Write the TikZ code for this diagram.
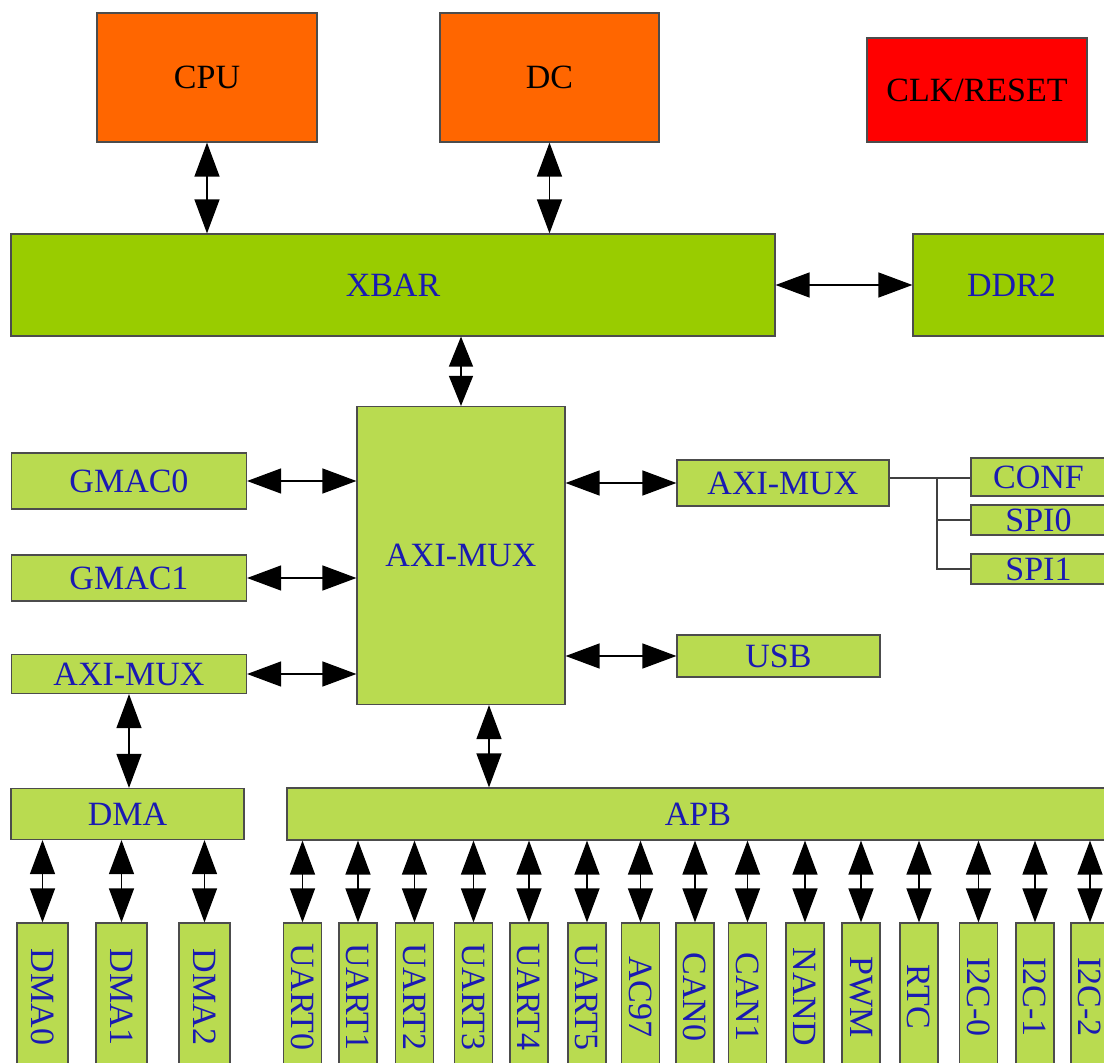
\documentclass[tikz,border=0pt]{standalone}
\usepackage{fontspec}
\setmainfont{Liberation Serif}
\usepackage{tikz}
\usetikzlibrary{arrows.meta}
\definecolor{ChipOrange}{RGB}{255,102,0}
\definecolor{ChipRed}{RGB}{255,0,0}
\definecolor{BusGreen}{RGB}{153,204,0}
\definecolor{DevGreen}{RGB}{185,219,80}
\definecolor{LabelBlue}{RGB}{26,26,178}

\begin{document}
\begin{tikzpicture}[x=1pt,y=-1pt,blk/.style n args={3}{fill=#1,minimum width=#2,minimum height=#3,rectangle,draw=black!70,line width=1.2pt,inner sep=0pt,text=LabelBlue,font=\fontsize{34}{34}\selectfont},biarrow/.style={<->,>={Triangle[length=34pt,width=25pt]},line width=1.3pt},tree/.style={line width=1.2pt,draw=black!75}]
\path[use as bounding box,fill=white] (0,0) rectangle (1104,1063);
% top row
   \node[blk={ChipOrange}{220}{129},text=black](cpu) at(207,77.5) {CPU};
   \node[blk={ChipOrange}{219}{129},text=black](dc) at(549.5,77.5) {DC};
   \node[blk={ChipRed}{220}{104},text=black](clk) at(977,90) {CLK/RESET};
   \node[blk={BusGreen}{764}{102}](xbar) at(393,285) {XBAR};
   \node[blk={BusGreen}{197}{102}](ddr) at(1011.5,285) {DDR2};
% middle
   \node[blk={DevGreen}{208}{298}](amux) at(461,555.5) {AXI-MUX};
   \node[blk={DevGreen}{235}{56}](gmac0) at(129,481) {GMAC0};
   \node[blk={DevGreen}{235}{46}](gmac1) at(129,578) {GMAC1};
   \node[blk={DevGreen}{235}{39}](lmux) at(129,674) {AXI-MUX};
   \node[blk={DevGreen}{212}{46}](rmux) at(783,483) {AXI-MUX};
   \node[blk={DevGreen}{203}{42}](usb) at(778.5,656) {USB};
   \node[blk={DevGreen}{135}{38}](conf) at(1038.5,477) {CONF};
   \node[blk={DevGreen}{135}{30}](spi0) at(1038.5,520) {SPI0};
   \node[blk={DevGreen}{135}{30}](spi1) at(1038.5,569) {SPI1};
   \node[blk={DevGreen}{233}{51}](dma) at(127.5,814) {DMA};
   \node[blk={DevGreen}{822}{52}](apb) at(698,814) {APB};
   \coordinate (tap) at (489,0);
   \coordinate (fork) at (937,478);
\draw[biarrow] (cpu) -- (cpu.south |- xbar.north);
\draw[biarrow] (dc) -- (dc.south |- xbar.north);
\draw[biarrow] (xbar.east) -- (ddr.west);
\draw[biarrow,>={Triangle[length=30pt,width=24pt]}] (amux.north) -- (amux.north |- xbar.south);
\draw[biarrow] (gmac0.east) -- (gmac0.east -| amux.west);
\draw[biarrow] (gmac1.east) -- (gmac1.east -| amux.west);
\draw[biarrow] (lmux.east) -- (lmux.east -| amux.west);
\draw[biarrow] (rmux.west -| amux.east) -- (rmux.west);
\draw[biarrow] (usb.west -| amux.east) -- (usb.west);
\draw[biarrow] (lmux.south) -- (lmux.south |- dma.north);
\draw[biarrow] (tap |- amux.south) -- (tap |- apb.north);
\draw[tree] (rmux.east |- fork) -- (fork) -- (fork -| conf.west);
\draw[tree] (fork) |- (spi1.west);
\draw[tree] (fork |- spi0.west) -- (spi0.west);
% bottom row
\foreach \x/\lab [count=\i] in %
{42.5/DMA0,121.5/DMA1,204.5/DMA2} {
   \node[blk={DevGreen}{148}{51},rotate=-90](dma\i) at(\x,997) {\lab};
   \draw[biarrow] (dma\i.west) -- (dma\i.west |- dma.south);
}
\foreach \x/\lab [count=\i] in %
{302.5/UART0,358/UART1,414.5/UART2,473.5/UART3,529/UART4,587/UART5,640.5/AC97,695/CAN0,747.5/CAN1,805/NAND,861/PWM,919/RTC,978.5/I2C-0,1035/I2C-1,1090/I2C-2} {
   \node[blk={DevGreen}{148}{38},rotate=-90](dev\i) at(\x,997) {\lab};
   \draw[biarrow] (dev\i.west) -- (dev\i.west |- apb.south);
}
\end{tikzpicture}
\end{document}
